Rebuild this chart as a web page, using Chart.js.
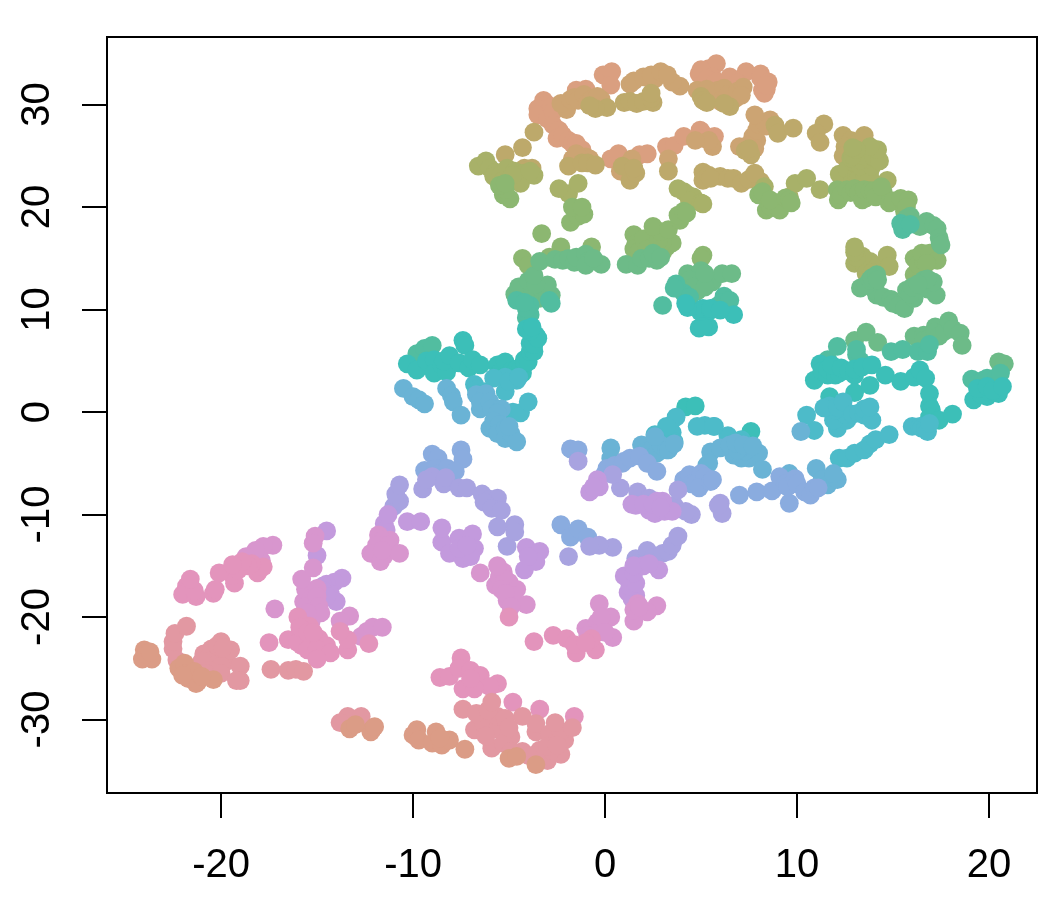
<!DOCTYPE html>
<html>
<head>
<meta charset="utf-8">
<style>
body { margin: 0; background: #fff; }
canvas { display: block; }
</style>
<script src="https://cdn.jsdelivr.net/npm/chart.js@4/dist/chart.umd.min.js"></script>
</head>
<body>
<canvas id="myChart" width="1062" height="906"></canvas>
<script>
const xTicks = [-20, -10, 0, 10, 20];
const yTicks = [-30, -20, -10, 0, 10, 20, 30];

const salmon = [[-24,-23.2],[-24.1,-24.1],[-23.6,-24.1],[-23.9,-23.6],[-23.7,-23.4],[-22.2,-25],[-21.9,-24.5],[-21.7,-26],[-21.3,-26.5],[-21.8,-25.5],[-21.4,-25.3],[-21.2,-26.3],[-20.4,-26.1],[-21,-25.8],[-22,-25.7],[-13.3,-30.9],[-12.1,-30.9],[-12.2,-31.2],[-12,-30.7],[-13,-30.5],[-9.8,-31],[-10,-31.5],[-9.7,-32],[-8.8,-31.2],[-9,-32.3],[-8.5,-32.5],[-8.1,-32],[-7.3,-32.9],[-8.6,-31.8],[-3.6,-34.4],[-5,-33.8],[-4.6,-33.6]];
const rose = [[-22.5,-23.1],[-22.5,-22.4],[-22.3,-24.2],[-20.9,-23.6],[-20.5,-23.1],[-20.1,-23.5],[-19.8,-23.9],[-20.4,-24.2],[-20.3,-24.7],[-19.7,-24.3],[-21,-24.3],[-20,-24.8],[-20.6,-25.2],[-20.8,-25.5],[-20,-25.5],[-19,-24.8],[-19,-26.2],[-19.2,-26.2],[-19.5,-23.2],[-20,-22.4],[-20.2,-22.8],[-19.9,-23],[-22.4,-21.6],[-21.8,-20.9],[-13.4,-29.7],[-13.8,-30.3],[-12.7,-29.7],[-6.8,-31],[-6.3,-30.5],[-5.6,-30.9],[-4.9,-31.7],[-5.9,-32.8],[-5.3,-32.3],[-4.3,-33.1],[-3.4,-33],[-3,-34],[-2.3,-33.4],[-3.6,-33.5],[-3.6,-31.2],[-3.6,-30.4],[-2.9,-31.4],[-2.1,-32],[-2.3,-31.2],[-7.4,-29],[-6.7,-29.4],[-5.6,-29.7],[-6.1,-29.1],[-4.3,-29.7],[-2.6,-30.3],[-1.7,-30.8],[-5.9,-28.3],[-17.4,-25.1],[-16.5,-25.2],[-16.1,-25.1],[-15.7,-25.3],[-5.2,-29.9],[-5,-30.8],[-4,-33.5],[-2.8,-33],[-4.9,-33.1],[-3,-32.6],[-2.5,-32.5],[-6.2,-31.6]];
const pink = [[-21.8,-17],[-22,-17.8],[-21.3,-18],[-20.4,-17.7],[-20.3,-17.3],[-21.4,-17.4],[-19.3,-16.7],[-19.4,-15.9],[-18.1,-15.7],[-17.8,-15.1],[-18.4,-14.8],[-18.6,-15],[-19.1,-15.4],[-18.9,-14.6],[-20.1,-15.7],[-19.4,-14.9],[-21.6,-16.3],[-16.5,-22.2],[-15.7,-22.2],[-15.8,-22.8],[-16,-22.5],[-14.9,-22.1],[-14.5,-22.8],[-15.5,-23.2],[-15,-23.1],[-14.3,-23.5],[-15,-24.1],[-17.5,-22.5],[-15.7,-20.8],[-16,-20],[-15.4,-20.9],[-15.9,-21],[-15.5,-21.5],[-15.2,-21.5],[-13.4,-23.2],[-13.4,-22.2],[-12.3,-22.6],[-13.8,-21.4],[-7.5,-24],[-8.6,-25.9],[-8.1,-25.8],[-7.6,-25],[-7,-25.2],[-6.5,-25.7],[-5.6,-26.5],[-6,-26.8],[-7.4,-27],[-6.8,-27],[-7,-26],[-4.8,-28.3],[-3.4,-29],[-1.6,-29.7],[-3.7,-22.4],[-2.7,-21.8],[-2,-22.1],[-1.5,-23.5],[-1.6,-22.7],[-0.5,-23.2],[-0.7,-22.1],[-1,-22.5],[-5,-20]];
const orchid = [[-17.3,-13],[-17.8,-13.1],[-17.9,-14.5],[-18.2,-13.5],[-18.7,-14.1],[-15.3,-17.7],[-15.7,-18.5],[-15.1,-18.7],[-15.6,-17.3],[-15,-17.2],[-15.3,-18.2],[-15.6,-19],[-15,-18],[-14.9,-19],[-15.3,-20.4],[-14.8,-19.6],[-15.5,-19.6],[-17.2,-19.2],[-13.3,-19.9],[-13.8,-20.4],[-12.7,-21.9],[-12.4,-21.4],[-12.1,-21],[-11.6,-21],[-15.8,-16.3],[-15.1,-12.1],[-15.2,-12.8],[-15.2,-15.2],[-11.8,-12],[-11.2,-12.5],[-11.6,-12.5],[-11.9,-13],[-11.3,-13],[-11.5,-14],[-12.2,-13.8],[-11.7,-14.6],[-10.7,-13.8],[-11.6,-13.5],[-5,-16.6],[-5.7,-16.9],[-5.5,-16.1],[-5.3,-15.6],[-5.2,-16.3],[-4.6,-17.3],[-5.1,-18.4],[-5.4,-17.3],[-4.8,-17.9],[-5.2,-17.7],[-4.1,-18.8],[-4.9,-19],[-6.5,-15.7],[-5.6,-15],[-1,-21.1],[-0.3,-18.7],[0.3,-20],[0.4,-22],[-0.4,-20.5],[-0.1,-21],[-0.4,-21.5],[-0.2,-20],[-0.9,-21.8],[0,-21.5],[1.5,-20.4],[2.7,-18.9],[2.2,-19.5],[1.5,-19.3],[1.7,-18.7],[1.8,-19]];
const lilac = [[-14.5,-11.6],[-15,-14],[-13.7,-16.2],[-14.1,-16.6],[-14.5,-16.8],[-14.7,-17],[-14.3,-17.8],[-14.7,-17.4],[-14,-18.5],[-14.5,-18],[-11.5,-10.9],[-11.4,-11.5],[-10.3,-10.7],[-9.6,-10.7],[-11.3,-10],[-8.5,-12.7],[-7.6,-12.3],[-6.9,-11.9],[-8.1,-13.8],[-6.8,-13.3],[-7.4,-14.3],[-7,-14.1],[-7.6,-13.3],[-7.2,-13],[-8.5,-11.3],[-4.1,-13.2],[-3.4,-13.6],[-3.6,-14.6],[-4.2,-15.4],[-4,-14.1],[1.2,-17.6],[1.6,-17.9],[1.4,-18.2],[1.3,-17],[1.6,-16.7],[1,-16],[1.5,-15.7],[2,-15],[1.5,-15],[2.8,-15.4],[2.3,-14.8],[-0.8,-7.8],[-0.4,-6.6],[-0.3,-7.3],[-0.6,-7.3],[1.6,-9.1],[1.4,-9],[2.3,-9.6],[2.6,-9.9],[3.1,-9.7],[3.5,-9.7],[3,-8.7],[2.7,-8.7],[2,-9],[2.5,-9],[2.9,-9.3]];
const periwinkle = [[-11,-9.2],[-10.7,-8.7],[-10.9,-8],[-10.7,-7.1],[-9.5,-7.5],[-8.4,-7],[-9,-6.3],[-9.3,-6.6],[-8.3,-6.4],[-5.6,-11.2],[-4.7,-11],[-4.7,-11.7],[-5.1,-13.1],[-1.9,-14.1],[0.4,-13.2],[-0.3,-13],[-0.8,-13.1],[1.6,-14.3],[1.7,-14.8],[2.2,-13.5],[2.5,-14.2],[3,-13.8],[3.3,-13.6],[3.5,-13],[3.8,-12.1],[-1.4,-4.8],[0.8,-7.4],[0.4,-6.1],[1.7,-7.8],[2.3,-8.4],[3.6,-9.1],[4.5,-10],[4.2,-9.7],[6,-8.9],[6.1,-9.9],[5.9,-9.1],[-7.6,-7.4],[-7.2,-7.4],[-6.4,-8],[-6,-8.5],[-5.6,-8.4],[-6.3,-8.8],[-5.9,-9.4],[-5.4,-9.6],[3.8,-7.6]];
const blue = [[-9,-4.1],[-8.7,-4.5],[-7.5,-3.7],[-7.4,-4.6],[-9.4,-5.7],[-8.8,-5.5],[-8.6,-6],[-8.2,-5.5],[-7.8,-5.8],[-2.3,-11],[-1.8,-12.2],[-1.4,-11.4],[-0.9,-12.2],[-1.8,-3.6],[-1.4,-3.7],[0,-6],[0.1,-5.5],[0.5,-5.2],[0.9,-5],[1,-4.8],[1.3,-4.5],[1.8,-4.3],[2.2,-5],[2.7,-5.8],[4.1,-6.6],[4.4,-6.1],[4.5,-7],[4.7,-7],[5,-6],[5.2,-6.3],[4.9,-7.4],[5.5,-6.8],[5.6,-6.6],[7,-8.1],[7.9,-7.8],[8.7,-7.7],[9.6,-8.9],[9.1,-6.3],[9.4,-7],[9.5,-7.3],[9.9,-6.5],[10,-7],[10.4,-7.8],[10.7,-8.1],[10.9,-7.4],[11.1,-7.4]];
const sky = [[0.3,-3.5],[0.3,-4.5],[1.9,-3.2],[2.1,-3.9],[2.5,-3.4],[2.7,-4],[2.9,-3.2],[3.2,-3.7],[3.3,-3.7],[5.3,-5.2],[5.5,-3.9],[5.4,-5],[-10.5,2.3],[-10,1.5],[-9.7,1.2],[-9.4,0.8],[-8.25,2.3],[-8,1.6],[-7.9,1],[-7.5,-0.3],[-6.7,1.7],[-6.2,1.8],[-6.5,0.3],[-6.5,1],[-6,1],[-5.9,0.3],[-5.4,0.3],[-5.6,-0.1],[-6,-1.6],[-5.8,-0.9],[-5.5,-1.2],[-5.6,-2.1],[-5.2,-1.6],[-5.2,-2.6],[-4.9,-2.1],[-4.6,-2.9],[-5,-1.4],[10.2,-1.9],[6.7,-4.2],[7.5,-4.5],[7.1,-4.5],[8,-4],[8.2,-5.6],[7.3,-3.5],[7.3,-3.8],[6,-3.5],[6.5,-3.2],[7,-3.6],[6.9,-3.7],[6.8,-3],[7.2,-3.2],[7.7,-3.3],[9.6,-6],[11,-5.5],[11.3,-6.6],[11.6,-7.1],[12.1,-6.6],[11.9,-6],[2.6,-2.4],[3.6,-3.1]];
const aqua = [[3,-2.4],[3.2,-2.6],[3.5,-2],[3.6,-2.9],[2.6,-2.2],[-4.8,0],[-4.4,-0.07],[-4,1],[-6.8,2.7],[-6.7,2.2],[-6.3,2],[12.2,-4.5],[12.6,-4.5],[13,-4],[13.5,-3.7],[13.8,-3.1],[14.1,-2.7],[14.8,-2.2],[6.4,-2.3],[5.7,-1.4],[5.2,-1.3],[7.1,-2.7],[10.9,-1.8],[10.5,-0.3],[12.1,-1.6],[12.6,-0.8],[12,-0.5],[11.9,-0.8],[12.5,-0.2],[12,0.2],[11.7,0.6],[11.4,0.4],[12.1,0.5],[12.4,1],[12.9,-0.2],[13.2,-0.1],[13.5,-0.3],[13.5,0.3],[13.9,-0.8],[13.8,0.5],[16,-1.4],[16.4,-1.4],[16.5,-1.6],[16.7,-1.6],[16.8,-1.9],[16.9,-1.1],[-5.2,2],[-4.6,3.1],[-5.2,3.4],[-5.8,3.3],[-5,3],[-4.5,3.4],[3.7,-0.5],[4.8,-1.4],[5.65,-1.4],[3.2,-1.4]];
const teal = [[-10.3,4.7],[-9.8,4.1],[-9.3,5],[-8.9,5.1],[-8.9,3.8],[-8.5,4.6],[-8.25,3.9],[-8.4,5],[-8.1,5.5],[-7.6,4.8],[-7.4,7],[-7.3,6.5],[-7.1,4.3],[-6.9,5.1],[-6.5,4.6],[-5.6,4.6],[-5.5,3.8],[-5.2,4.9],[-4.9,4],[-4.7,3.6],[-4.6,4.2],[-4.4,4.1],[-4.3,3.8],[-4.2,5.1],[-4.2,4.8],[-4,4.9],[-3.9,5.9],[-3.7,5.9],[-3.9,6.7],[-3.7,6.6],[-3.6,7.5],[-3.5,7.2],[-3.9,7.9],[-4.1,8.1],[-3.8,8.3],[4.9,8.2],[5.4,8.3],[5.1,8.4],[4.95,9.8],[5.1,10.1],[5.5,9.95],[5.5,10.1],[6.7,9.5],[6,9.95],[11.2,4.7],[10.9,3.1],[11.3,4],[11.6,3.6],[11.6,4.2],[12,3.6],[12.2,3.8],[11.8,4.6],[12.3,4.3],[12.7,4],[13,3.6],[13,4.2],[13.4,4.4],[13.9,4.6],[14.6,3.6],[13,1.9],[13.8,2.6],[11.7,1.5],[15.4,3],[16.1,3.4],[16.4,4.1],[16.7,3.3],[16.9,1.8],[16.9,0.6],[17,0.2],[16.9,-0.5],[17.4,-0.8],[18.1,-0.2],[19.2,1.2],[19.9,1.5],[19.6,1.7],[20,2],[19.4,2.3],[19.9,2.5],[20.5,1.8],[20.2,2.1],[20.7,2.5],[7.6,-1.9],[4.3,10.2],[4.2,10.6],[4.2,0.5],[4.7,0.6]];
const sea = [[-9.8,5.7],[-9.4,6.2],[-9,6.5],[11.6,5.1],[13.1,5.6],[13.3,5],[13.1,6.1],[12.1,6.4],[14.9,5.9],[15.5,6.1],[16.3,5.9],[16.8,5.9],[16.9,6.6],[19.1,3.2],[19.5,2.9],[19.7,3.1],[20.2,3.1],[20.3,3],[19.9,3.3],[20.4,2.9],[20.4,3.4],[20.6,3.8],[-4.1,9.2],[-3.9,9.5],[-4,8.6],[-4.6,10.9],[-3.9,10.4],[-4.1,10.1],[-4.2,10.7],[-2.8,10.6],[-2.9,10.9],[3,10.4],[4.1,11.6],[4.4,11.2],[6.2,11.3],[6.1,10.7],[6.3,10.4],[5.9,10.4],[6.5,10.9],[3.7,12.5],[3.6,12.1],[15.4,18.4],[15.5,17.8],[15.6,18.1],[15.9,18.3]];
const green = [[-3.8,11.6],[-4.4,11.6],[-4.7,11.5],[-4.1,11.4],[-3.9,11.1],[-3.4,11.1],[-2.8,11.4],[-4.3,12.1],[-4.5,12.2],[-3.8,12.2],[-3.5,11.9],[-3.3,12],[-3,11.5],[-4,12.8],[-3,12.4],[-3.6,12.5],[-3.7,13.3],[-3.4,14.7],[-2.6,14.9],[-2.2,14.8],[-1.9,15],[-1.6,14.6],[-1.5,15.1],[-1,15.4],[-0.9,14.7],[-1,14.3],[-0.2,14.4],[-0.6,15],[1.1,14.4],[1.7,14.3],[1.9,15],[2.3,15],[2.7,14.8],[2.5,15.5],[2.9,15.1],[5,13],[5,12.3],[4.8,11.8],[4.1,12.6],[5.6,12.7],[6.1,13.5],[6.6,13.5],[4.3,13.5],[5,13.8],[4.4,12.9],[4.6,12.2],[5.2,12.2],[5.2,13.5],[13,7],[13.6,7.8],[14.2,6.8],[16.1,7.4],[16.6,7.5],[16.6,7],[16.9,7.2],[17.2,8.3],[17.2,7.8],[17.4,7.4],[17.7,7.9],[17.9,8.9],[18.1,8.1],[18.5,7.7],[18.6,6.5],[20.5,4.9],[20.8,4.7],[15.9,19.1],[15.7,18.9],[16.75,18.6],[16.4,18.1],[17.1,18.2],[17.3,17.9],[17.4,17],[17.45,16.5],[17.5,16.3],[14.15,11.4],[14.1,11.8],[14.5,11.2],[14.9,11],[15,10.6],[15.3,10.4],[15.6,10.1],[16.1,11.1],[15.7,11.9],[15.9,11.5],[16,12.2],[16.8,12],[17.25,11.4],[17.1,12.7],[16.6,12.9],[16.8,13],[16.3,12.5],[13.3,12.1],[13.6,12.4],[13.8,12.9],[13.9,13.1],[14.15,13.4],[14.2,12.9]];
const leaf = [[-4.3,15],[-4,14.3],[-2.9,15.1],[-2.3,16.1],[-0.7,16.1],[-3.3,17.4],[1.5,17.3],[1.6,16.4],[1.5,15.9],[1.8,15.7],[2,16.9],[2.2,15.9],[3,15.6],[3.2,16.1],[3.5,16.5],[5.1,15.3],[5,15],[-1.8,18.5],[-1.4,19.1],[-1.1,19.3],[-1.7,20],[-1.2,20],[3,17.1],[3,16.6],[2.8,16.8],[2.9,17.6],[2.5,18.1],[3.3,17.8],[3.9,18.7],[3.8,19.2],[4.1,19.6],[4.25,19.4],[-5.3,21.2],[-4.95,20.8],[-5.2,21.7],[-5.5,22.1],[-5.2,22.3],[8,21.2],[8.2,21.5],[8.4,19.7],[8.6,20.1],[9.1,19.7],[8.6,20.7],[9.4,20.9],[9.6,20.7],[9.7,20.4],[12.1,21.7],[12.15,20.7],[12.3,21.2],[12.6,21.7],[12.8,21.4],[13,21.8],[13.2,21.4],[13.6,20.9],[13.4,20.7],[13.5,21.7],[13.8,21.6],[14,21.6],[14.5,21.4],[14.1,21],[14.4,22],[14.8,20.4],[15,20.6],[15.4,20.85],[15.6,19.6],[15.8,20.7],[15.7,20],[16.1,13.4],[16.5,13.3],[16.1,15],[16.3,14.4],[16.6,14.7],[16.5,15.5],[16.9,15.5],[17.3,14.8],[16.75,14.5]];
const olive = [[-6.6,24],[-6.2,24.5],[-6,23.8],[-5.7,23.4],[-5.8,23],[-5.4,23.2],[-5.3,22.6],[-5.1,23.8],[-5,22.7],[-4.7,22.9],[-4.7,23.5],[-4.6,22.6],[-4.4,23.2],[-4.2,23.3],[-4.4,22.3],[-4.8,23.1],[-3.7,23.1],[-3.9,23.5],[-1.9,21.3],[4.3,21.2],[4.1,21.5],[4.6,21],[4.4,20.6],[3.8,21.8],[5,20.4],[5.1,20.3],[8.3,22],[9.6,21],[9.9,22.3],[10.5,22.8],[11.2,21.7],[12.5,23],[12.2,23.2],[12.6,23.7],[12.9,22.5],[13.1,23.2],[13.2,22.8],[13.5,23.3],[13.8,23.5],[13.8,22.8],[14.7,22.6],[13,24.3],[13.3,24],[13.9,24],[13.6,24.7],[13.3,24.6],[13.5,25],[12.8,24.8],[12.9,25],[14,24.9],[14.3,24.5],[14.2,25.6],[13.8,25.9],[13.1,25.6],[12.9,25.8],[13,14.5],[13.8,14.7],[13.5,14.2],[13.6,13.5],[14.1,14.3],[13.4,15.2],[13.1,15.1],[13.9,13.6],[14.7,15.3],[14.8,14.2],[13,15.6],[13,16.1],[-2.4,21.8],[-1.4,22.3]];
const khaki = [[-5.2,25.1],[-4.3,25.8],[-4.2,23.8],[-3.8,23.8],[12.4,27],[12.8,26.5],[13.2,26.3],[13.6,26.2],[13.5,27],[12.5,25.9],[12.4,25],[-1.9,24],[-1.2,24.3],[-0.9,24.3],[-0.5,24.1],[1.3,22.6],[1.6,23.3],[0.9,24],[1.5,23.8],[5.1,23.4],[5.1,22.6],[5.4,23.1],[6,23],[5.5,22.8],[6.4,22.8],[6.7,22.8],[7.1,22.3],[7.5,22.7],[8.1,22.5],[7.8,23.3],[1,30.2],[1.3,30.3],[1.65,30.1],[2,30.3],[2.5,30.2],[2.4,30.6],[2.4,31.1],[0.1,29.7],[-0.5,29.6],[-0.8,29.9],[11.4,28.1],[11,27.2],[11.2,26.3],[3.3,23.5],[-3.7,27.3],[8.85,28],[9,27.2],[9.8,27.7],[7.6,25.1],[7.3,25.5],[7.5,25.7],[5,30.8],[6.5,29.8],[5.1,30.4],[5.3,30.2],[6.2,30.1]];
const sand = [[-2,29.5],[-2.3,30.1],[-1.8,30.5],[-1.6,30.7],[-1.4,30.4],[-1.1,31],[-0.9,30.2],[-0.7,30.5],[-0.2,30.5],[-0.4,30.8],[-1,24.9],[-0.8,24.7],[-1.7,24.7],[-1.5,25.2],[0.8,23.5],[1.2,24.2],[1.4,24.7],[3.3,24.7],[3.9,31.8],[1.3,32],[1.5,32.3],[2,32.7],[2.6,32.5],[3.5,32.2],[2.4,32.9],[2.9,33.2],[3.25,32.9],[4.8,31.4],[5.6,30.8],[5.8,30.7],[6,30.3],[6.8,30.6],[5.5,31.1],[5.9,31.4],[5.3,31.5],[6.2,31.6],[6.4,31],[6.9,31.3],[7.2,31.7],[7.1,30.9],[7.9,26.5],[7.7,26.9],[7.9,27.5],[8,28.1],[8.4,27.9],[8.6,28.5],[7.8,25.7],[7,25.9],[7.4,26],[8.3,28.3],[7.8,29],[5.6,25.9],[5.4,26.5],[4.7,26.5]];
const tan = [[-3.2,30.4],[-3,30],[-3.5,29.6],[-3.5,29],[-3,28.6],[-2.8,29.8],[-2.7,29.3],[-2.7,28],[-2.4,27.5],[-2.5,26.7],[-2.2,27],[-1.9,26.5],[-1.7,26.2],[-1.5,26.2],[-1.2,25.6],[-1.5,31.4],[-1,31.5],[-0.1,32.9],[0.35,33.2],[0.3,31.9],[0.3,24.7],[0.7,25.2],[1.8,25.1],[2.2,25.2],[3.2,25.9],[3.6,26],[4.1,26.9],[4.95,27.5],[5,27.4],[5.1,26.7],[5.7,26.9],[4.9,33],[5.4,33.5],[5.8,34],[5,33.4],[5.6,32.7],[5.3,32.5],[5.8,32.2],[6.5,32.7],[7.35,33.2],[8.1,33],[8.1,32.6],[8.5,32.2],[8.2,31.4],[8.4,31.5],[8.3,31.1],[8.4,31.9],[6.9,32.1]];

const bands = [
    [salmon, '#db9c86'],
    [rose, '#e298a2'],
    [pink, '#e394bc'],
    [orchid, '#d896ce'],
    [lilac, '#c39add'],
    [periwinkle, '#a8a3e0'],
    [blue, '#8aacdf'],
    [sky, '#6ab3d5'],
    [aqua, '#4dbbc9'],
    [teal, '#3cbfb8'],
    [sea, '#52bda0'],
    [green, '#6dbb88'],
    [leaf, '#8cb771'],
    [olive, '#a8b169'],
    [khaki, '#bda96b'],
    [sand, '#cca473'],
    [tan, '#da9f80'],
];

const boxPlugin = {
    id: 'box',
    afterDraw(chart) {
        const a = chart.chartArea;
        const c = chart.ctx;
        c.save();
        c.strokeStyle = '#000';
        c.lineWidth = 2;
        c.strokeRect(a.left, a.top, a.right - a.left, a.bottom - a.top);
        c.restore();
    }
};

const tickFont = { family: '"Liberation Sans", Arial, sans-serif', size: 40 };

new Chart(document.getElementById('myChart'), {
    type: 'scatter',
    data: {
        datasets: bands.map(b => ({
            data: b[0],
            backgroundColor: b[1],
            pointRadius: 9.4,
            pointBorderWidth: 0,
            borderWidth: 0,
        })),
    },
    options: {
        responsive: false,
        animation: false,
        events: [],
        layout: { padding: { top: 37, right: 25, left: 0, bottom: 0 } },
        plugins: { legend: { display: false }, tooltip: { enabled: false } },
        scales: {
            x: {
                type: 'linear',
                min: -25.94,
                max: 22.5,
                afterBuildTicks: s => { s.ticks = xTicks.map(v => ({ value: v })); },
                afterFit: s => { s.height = 113; },
                grid: { drawOnChartArea: false, drawTicks: true, tickLength: 25, color: '#000', lineWidth: 2 },
                border: { display: false },
                ticks: { color: '#000', font: tickFont, padding: 24, maxRotation: 0, autoSkip: false, callback: v => String(v) },
            },
            y: {
                type: 'linear',
                min: -37.17,
                max: 36.59,
                afterBuildTicks: s => { s.ticks = yTicks.map(v => ({ value: v })); },
                afterFit: s => { s.width = 107; },
                grid: { drawOnChartArea: false, drawTicks: true, tickLength: 25, color: '#000', lineWidth: 2 },
                border: { display: false },
                ticks: { color: '#000', font: { ...tickFont, lineHeight: 1 }, padding: 15, minRotation: 90, maxRotation: 90, crossAlign: 'center', autoSkip: false, callback: v => String(v) },
            },
        },
    },
    plugins: [boxPlugin],
});
</script>
</body>
</html>
